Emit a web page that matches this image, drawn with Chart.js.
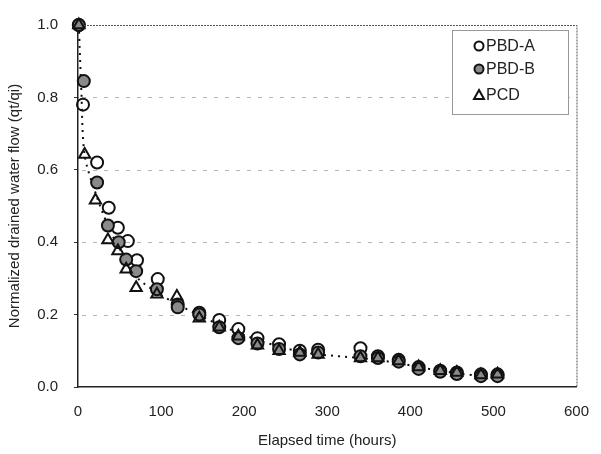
<!DOCTYPE html>
<html>
<head>
<meta charset="utf-8">
<script src="https://cdn.jsdelivr.net/npm/chart.js@4/dist/chart.umd.min.js"></script>
<style>
  html, body { margin: 0; padding: 0; background: #fff; }
  #wrap { width: 601px; height: 454px; }
</style>
</head>
<body>
<div id="wrap"><canvas id="flowChart" width="601" height="454"></canvas></div>
<script>
// elapsed time (hours) and normalized flow qt/qi
var timeA = [1, 6, 23, 37, 48, 60, 71, 96, 120, 146, 170, 193, 216, 242, 267, 289, 340, 361, 386, 410, 436, 456, 485, 505];
var pbdA  = [1.0, 0.78, 0.62, 0.495, 0.44, 0.403, 0.35, 0.298, 0.228, 0.205, 0.185, 0.16, 0.135, 0.118, 0.10, 0.103, 0.107, 0.085, 0.075, 0.055, 0.045, 0.04, 0.035, 0.035];

var timeB = [1, 7, 23, 36, 49, 58, 70, 95, 120, 146, 170, 193, 216, 242, 267, 289, 340, 361, 386, 410, 436, 456, 485, 505];
var pbdB  = [1.0, 0.845, 0.565, 0.446, 0.40, 0.352, 0.32, 0.27, 0.22, 0.20, 0.165, 0.135, 0.12, 0.105, 0.09, 0.095, 0.085, 0.08, 0.07, 0.05, 0.042, 0.036, 0.03, 0.03];

var timeC = [1, 8, 21, 36, 48, 58, 70, 95, 119, 146, 170, 193, 216, 242, 267, 289, 340, 361, 386, 410, 436, 456, 485, 505];
var pcd   = [1.0, 0.642, 0.516, 0.406, 0.376, 0.325, 0.274, 0.256, 0.25, 0.19, 0.165, 0.14, 0.115, 0.10, 0.095, 0.09, 0.08, 0.08, 0.072, 0.055, 0.045, 0.04, 0.033, 0.035];

// dotted trend line through the points
var trendT = [1, 4, 8, 22, 37, 48, 60, 72, 96, 120, 146, 170, 193, 216, 242, 267, 289, 340, 361, 386, 410, 436, 456, 485, 505];
var trendV = [1.0, 0.82, 0.64, 0.53, 0.44, 0.39, 0.345, 0.30, 0.26, 0.228, 0.198, 0.172, 0.15, 0.13, 0.112, 0.098, 0.09, 0.08, 0.074, 0.066, 0.055, 0.045, 0.038, 0.03, 0.026];

var xTicks = [0, 100, 200, 300, 400, 500, 600];

function toPoints(xs, ys) {
  return xs.map(function (x, i) { return { x: x, y: ys[i] }; });
}

var font = { family: "'Liberation Sans', Arial, sans-serif", size: 15 };

// frame + legend box drawn on top of the chart area
var framePlugin = {
  id: 'frame',
  afterDatasetsDraw: function (chart) {
    var ctx = chart.ctx, a = chart.chartArea;
    ctx.save();
    ctx.strokeStyle = '#555';
    ctx.lineWidth = 1;
    ctx.setLineDash([2, 1]);
    ctx.beginPath();
    ctx.moveTo(a.left + 6, a.top + 0.5);
    ctx.lineTo(a.right + 0.5, a.top + 0.5);
    ctx.lineTo(a.right + 0.5, a.bottom);
    ctx.stroke();
    ctx.setLineDash([]);

    // legend
    var bx = 452, by = 30, bw = 116, bh = 84;
    ctx.fillStyle = '#fff';
    ctx.fillRect(bx, by, bw, bh);
    ctx.strokeStyle = '#999';
    ctx.strokeRect(bx + 0.5, by + 0.5, bw, bh);
    ctx.font = "16px 'Liberation Sans', Arial, sans-serif";
    ctx.textBaseline = 'middle';
    var rows = [46, 69, 95];
    for (var i = 0; i < 3; i++) {
      var ds = chart.data.datasets[i];
      var mx = 479, my = rows[i];
      ctx.lineWidth = 2;
      ctx.strokeStyle = '#111';
      ctx.fillStyle = ds.backgroundColor;
      ctx.beginPath();
      if (ds.pointStyle === 'triangle') {
        ctx.moveTo(mx, my - 5);
        ctx.lineTo(mx + 5, my + 4);
        ctx.lineTo(mx - 5, my + 4);
        ctx.closePath();
      } else {
        ctx.arc(mx, my, 4.5, 0, Math.PI * 2);
      }
      ctx.fill();
      ctx.stroke();
      ctx.fillStyle = '#222';
      ctx.fillText(ds.label, 486, my + 1);
    }
    ctx.restore();
  }
};

var ctx = document.getElementById('flowChart').getContext('2d');
var flowChart = new Chart(ctx, {
  type: 'scatter',
  data: {
    datasets: [{
      label: 'PBD-A',
      data: toPoints(timeA, pbdA),
      pointStyle: 'circle',
      pointRadius: 6,
      borderColor: '#111',
      borderWidth: 2,
      backgroundColor: 'rgba(255,255,255,0)',
      clip: false,
      order: 3
    }, {
      label: 'PBD-B',
      data: toPoints(timeB, pbdB),
      pointStyle: 'circle',
      pointRadius: 6,
      borderColor: '#111',
      borderWidth: 2,
      backgroundColor: '#8a8a8a',
      clip: false,
      order: 2
    }, {
      label: 'PCD',
      data: toPoints(timeC, pcd),
      pointStyle: 'triangle',
      pointRadius: 6.5,
      borderColor: '#111',
      borderWidth: 2,
      backgroundColor: 'rgba(255,255,255,0)',
      clip: false,
      order: 1
    }, {
      label: 'trend',
      type: 'line',
      data: toPoints(trendT, trendV),
      borderColor: '#111',
      borderWidth: 2,
      borderDash: [2, 5],
      pointRadius: 0,
      fill: false,
      tension: 0.3,
      clip: false,
      order: 10
    }]
  },
  options: {
    responsive: false,
    animation: false,
    layout: { padding: { top: 15, right: 18 } },
    plugins: {
      legend: { display: false },
      tooltip: { enabled: false }
    },
    scales: {
      x: {
        type: 'linear',
        min: 0,
        max: 600,
        afterBuildTicks: function (scale) {
          scale.ticks = xTicks.map(function (v) { return { value: v }; });
        },
        afterFit: function (scale) { scale.height = 67; },
        grid: { display: false, drawTicks: true, tickLength: 4, color: '#333' },
        border: { display: true, color: '#222', width: 1.5 },
        ticks: { color: '#222', font: font, padding: 12, maxRotation: 0 },
        title: {
          display: true,
          text: 'Elapsed time (hours)',
          color: '#222',
          font: font,
          padding: { top: 0, bottom: 4 }
        }
      },
      y: {
        min: 0,
        max: 1.0,
        afterFit: function (scale) { scale.width = 78; },
        grid: {
          color: function (c) { return c.tick.value >= 1 || c.tick.value <= 0 ? 'rgba(0,0,0,0)' : '#bdbdbd'; },
          tickColor: '#333',
          tickLength: 4,
          lineWidth: 1
        },
        border: { display: true, color: '#222', width: 1.5, dash: [] },
        ticks: {
          stepSize: 0.2,
          color: '#222',
          font: font,
          padding: 16,
          callback: function (v) { return v.toFixed(1); }
        },
        title: {
          display: true,
          text: 'Normalized drained water flow (qt/qi)',
          color: '#222',
          font: font,
          padding: { top: 6, bottom: 0 }
        }
      }
    }
  },
  plugins: [framePlugin, {
    // dashed horizontal grid lines
    id: 'dashGrid',
    beforeDatasetsDraw: function (chart) {
      var c = chart.ctx, a = chart.chartArea, y = chart.scales.y;
      c.save();
      c.fillStyle = '#fff';
      c.fillRect(a.left + 1, a.top + 1, a.right - a.left - 1, a.bottom - a.top - 2);
      c.strokeStyle = '#b5b5b5';
      c.lineWidth = 1;
      c.setLineDash([4, 7]);
      y.ticks.forEach(function (t) {
        if (t.value <= 0 || t.value >= 1) return;
        var py = Math.round(y.getPixelForValue(t.value)) + 0.5;
        c.beginPath();
        c.moveTo(a.left + 4, py);
        c.lineTo(a.right, py);
        c.stroke();
      });
      c.restore();
    }
  }]
});
</script>
</body>
</html>
